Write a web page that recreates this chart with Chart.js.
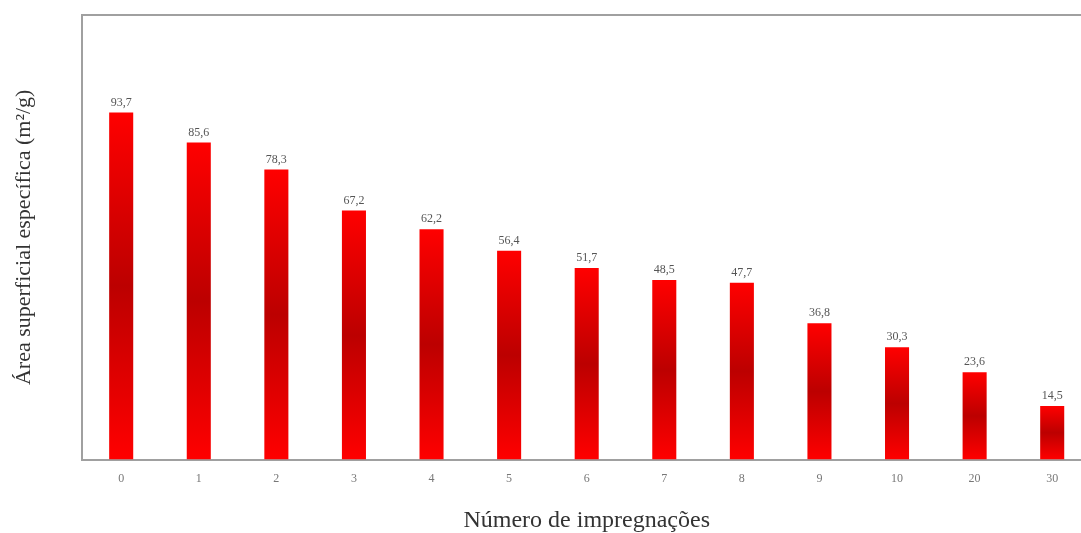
<!DOCTYPE html>
<html>
<head>
<meta charset="utf-8">
<script src="https://cdn.jsdelivr.net/npm/chart.js@4"></script>
<style>
  html, body { margin: 0; padding: 0; background: #fff; overflow: hidden; }
</style>
</head>
<body>
<canvas id="areaChart" width="1091" height="533"></canvas>
<script>
var impregnacoes = ['0', '1', '2', '3', '4', '5', '6', '7', '8', '9', '10', '20', '30'];
var areaEspecifica = [93.7, 85.6, 78.3, 67.2, 62.2, 56.4, 51.7, 48.5, 47.7, 36.8, 30.3, 23.6, 14.5];

// gradiente por barra: vermelho vivo nas pontas, escuro no meio
function barGradient(context) {
    var chart = context.chart;
    if (!chart.chartArea || !chart.scales.y) return '#e00000';
    var y = chart.scales.y;
    var top = y.getPixelForValue(areaEspecifica[context.dataIndex]);
    var bottom = y.getPixelForValue(0);
    if (!isFinite(top) || bottom - top < 1) return '#e00000';
    var g = chart.ctx.createLinearGradient(0, top, 0, bottom);
    g.addColorStop(0, '#ff0000');
    g.addColorStop(0.5, '#bc0000');
    g.addColorStop(1, '#ff0000');
    return g;
}

var valueLabels = {
    id: 'valueLabels',
    afterDatasetsDraw: function (chart) {
        var ctx = chart.ctx;
        var meta = chart.getDatasetMeta(0);
        ctx.save();
        ctx.font = '12px "Liberation Serif"';
        ctx.fillStyle = '#555';
        ctx.textAlign = 'center';
        ctx.textBaseline = 'bottom';
        meta.data.forEach(function (bar, i) {
            var txt = areaEspecifica[i].toFixed(1).replace('.', ',');
            ctx.fillText(txt, bar.x, bar.y - 4);
        });
        // linha superior da moldura
        var a = chart.chartArea;
        ctx.strokeStyle = '#a0a0a0';
        ctx.lineWidth = 2;
        ctx.beginPath();
        ctx.moveTo(a.left, a.top);
        ctx.lineTo(a.right + 5, a.top);
        ctx.stroke();
        ctx.restore();
    }
};

var ctx = document.getElementById('areaChart').getContext('2d');
var areaChart = new Chart(ctx, {
    type: 'bar',
    data: {
        labels: impregnacoes,
        datasets: [{
            label: 'Área superficial específica',
            data: areaEspecifica,
            backgroundColor: barGradient,
            categoryPercentage: 1,
            barPercentage: 0.31
        }]
    },
    options: {
        responsive: false,
        animation: false,
        layout: { padding: { top: 15, left: 11, right: 0, bottom: 0 } },
        plugins: {
            legend: { display: false },
            tooltip: { enabled: false }
        },
        scales: {
            x: {
                grid: { display: false, drawTicks: false },
                border: { display: true, color: '#a0a0a0', width: 2 },
                ticks: {
                    color: '#777',
                    font: { family: 'Liberation Serif', size: 12 },
                    padding: 12
                },
                title: {
                    display: true,
                    text: 'Número de impregnações',
                    color: '#333',
                    font: { family: 'Liberation Serif', size: 24, lineHeight: 1 },
                    padding: { top: 11, bottom: 0 }
                }
            },
            y: {
                min: 0,
                max: 120,
                grid: { display: false, drawTicks: false },
                border: { display: true, color: '#a0a0a0', width: 2 },
                ticks: { display: false },
                title: {
                    display: true,
                    text: 'Área superficial específica (m²/g)',
                    color: '#333',
                    font: { family: 'Liberation Serif', size: 22 },
                    padding: { top: 0, bottom: 45 }
                }
            }
        }
    },
    plugins: [valueLabels]
});
</script>
</body>
</html>
